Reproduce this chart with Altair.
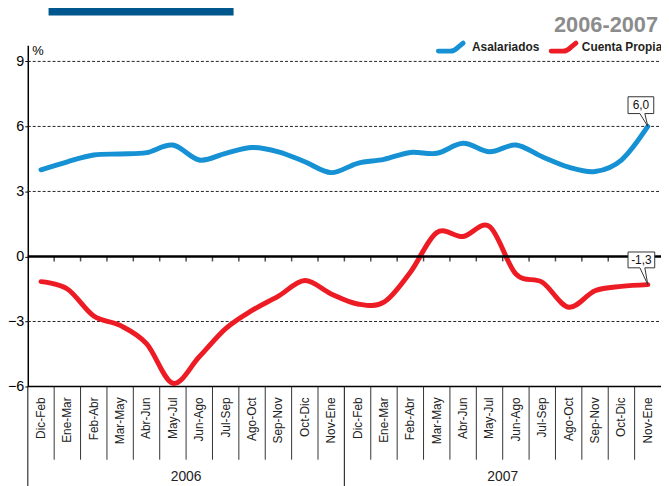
import altair as alt
import pandas as pd

# ---------------- data ----------------
periods = ["Dic-Feb", "Ene-Mar", "Feb-Abr", "Mar-May", "Abr-Jun", "May-Jul",
           "Jun-Ago", "Jul-Sep", "Ago-Oct", "Sep-Nov", "Oct-Dic", "Nov-Ene"]
years = ["2006", "2007"]
asalariados = [4.0, 4.37, 4.68, 4.73, 4.79, 5.14, 4.45, 4.76, 5.03, 4.83, 4.37, 3.87,
               4.30, 4.48, 4.80, 4.76, 5.22, 4.83, 5.14, 4.60, 4.12, 3.92, 4.45, 6.0]
cuenta_propia = [-1.16, -1.5, -2.75, -3.18, -4.02, -5.85, -4.63, -3.33, -2.49, -1.83, -1.11, -1.73,
                 -2.19, -2.11, -0.73, 1.1, 0.92, 1.38, -0.81, -1.19, -2.34, -1.58, -1.38, -1.3]
series_names = ["Asalariados", "Cuenta Propia"]
series_colors = ["#1591d4", "#ed1c24"]
last_labels = ["6,0", "-1,3"]
y_ticks = [-6, -3, 0, 3, 6, 9]
grid_values = [9, 6, 3, -3]
period_title = "2006-2007"

# ---------------- tables ----------------
n = len(periods) * len(years)
rows = []
for s, vals in zip(series_names, [asalariados, cuenta_propia]):
    for i, v in enumerate(vals):
        rows.append({"series": s, "pos": i + 0.5, "value": v})
df = pd.DataFrame(rows)

cats = pd.DataFrame({
    "pos": [i + 0.5 for i in range(n)],
    "period": [periods[i % len(periods)] for i in range(n)],
})
yrs = pd.DataFrame({"ypos": [len(periods) * (k + 0.5) for k in range(len(years))],
                    "year": years})
short_b = pd.DataFrame({"b": [b for b in range(1, n) if b % len(periods) != 0]})
long_b = pd.DataFrame({"b": [b for b in range(0, n) if b % len(periods) == 0]})
grid_df = pd.DataFrame({"g": grid_values})
last_df = pd.DataFrame({
    "series": series_names,
    "pos": [n - 0.5, n - 0.5],
    "value": [asalariados[-1], cuenta_propia[-1]],
    "label": last_labels,
})
dummy = pd.DataFrame({"a": [0]})

W, H = 640, 345
FONT = "Liberation Sans, Arial, sans-serif"

xs = alt.Scale(domain=[0, n], nice=False, zero=False)
ys = alt.Scale(domain=[-6, 9.75], nice=False, zero=False)

yaxis = alt.Axis(
    values=y_ticks, grid=False, domainColor="black", domainWidth=1.5,
    tickColor="black", tickSize=3, labelFontSize=14.5, labelPadding=1,
    labelFont=FONT, labelColor="black", title="%", titleAngle=0,
    titleAlign="left", titleBaseline="top", titleX=4, titleY=-1,
    titleFontSize=13, titleFontWeight="normal", titleFont=FONT, titleColor="black")

box1 = "M-20,-30 H6 V-13 H-3 L0,0 L-8,-13 H-20 Z"
box2 = "M-20,-33 H7 V-17 H-3 L0,0 L-8,-17 H-20 Z"
icon = "M-13,4 L-1,4 C3,4 5,2 7,0 L12,-4"

# ---------------- layers ----------------
grid = alt.Chart(grid_df).mark_rule(color="#222", strokeDash=[3, 2], strokeWidth=1).encode(
    y=alt.Y("g:Q", scale=ys, axis=yaxis), x=alt.value(0), x2=alt.value(W))

zero = alt.Chart(dummy).mark_rule(color="black", strokeWidth=2.5).encode(
    y=alt.datum(0, scale=ys), x=alt.value(0), x2=alt.value(W))

zero_ticks = alt.Chart(pd.DataFrame({"b": list(range(1, n))})).mark_tick(
    orient="vertical", color="black", size=5, thickness=1.5, yOffset=2.5).encode(
    x=alt.X("b:Q", scale=xs, axis=None), y=alt.datum(0, scale=ys))

bottom = alt.Chart(dummy).mark_rule(color="black", strokeWidth=1.5).encode(
    y=alt.datum(-6, scale=ys), x=alt.value(0), x2=alt.value(W))

div_short = alt.Chart(short_b).mark_rule(color="#333", strokeWidth=1).encode(
    x=alt.X("b:Q", scale=xs, axis=None), y=alt.value(H), y2=alt.value(H + 74))
div_long = alt.Chart(long_b).mark_rule(color="#333", strokeWidth=1.2).encode(
    x=alt.X("b:Q", scale=xs, axis=None), y=alt.value(H), y2=alt.value(H + 120))

cat_text = alt.Chart(cats).mark_text(
    angle=270, align="right", baseline="middle", fontSize=12, font=FONT, color="#222").encode(
    x=alt.X("pos:Q", scale=xs, axis=None), y=alt.value(H + 11), text="period:N")

year_text = alt.Chart(yrs).mark_text(
    align="center", baseline="middle", fontSize=14, font=FONT, color="#222").encode(
    x=alt.X("ypos:Q", scale=xs, axis=None), y=alt.value(H + 92), text="year:N")

lines = alt.Chart(df).mark_line(strokeWidth=5, interpolate="cardinal", strokeCap="round",
                                strokeJoin="round").encode(
    x=alt.X("pos:Q", scale=xs, axis=None),
    y=alt.Y("value:Q", scale=ys, axis=yaxis),
    color=alt.Color("series:N", scale=alt.Scale(domain=series_names, range=series_colors),
                    legend=None),
)

callout = alt.Chart(last_df).mark_point(size=4, filled=True, fill="white", stroke="#333",
                                         strokeWidth=1, opacity=1).encode(
    x=alt.X("pos:Q", scale=xs, axis=None), y=alt.Y("value:Q", scale=ys, axis=yaxis),
    shape=alt.Shape("series:N", scale=alt.Scale(domain=series_names, range=[box1, box2]),
                    legend=None))

lab1 = alt.Chart(last_df).transform_filter(alt.datum.series == series_names[0]).mark_text(
    dx=-7, dy=-21.5, fontSize=12, font=FONT, color="#111", baseline="middle").encode(
    x=alt.X("pos:Q", scale=xs, axis=None), y=alt.Y("value:Q", scale=ys, axis=yaxis), text="label:N")
lab2 = alt.Chart(last_df).transform_filter(alt.datum.series == series_names[1]).mark_text(
    dx=-6.5, dy=-25, fontSize=12, font=FONT, color="#111", baseline="middle").encode(
    x=alt.X("pos:Q", scale=xs, axis=None), y=alt.Y("value:Q", scale=ys, axis=yaxis), text="label:N")

# manual legend
legend_layers = []
icon_x = [428, 542]
text_x = [449, 560]
for k, s in enumerate(series_names):
    legend_layers.append(alt.Chart(dummy).mark_point(
        shape=icon, size=4, filled=False, stroke=series_colors[k], strokeWidth=5,
        strokeCap="round", strokeJoin="round", opacity=1).encode(
        x=alt.value(icon_x[k]), y=alt.value(2)))
    legend_layers.append(alt.Chart(dummy).mark_text(
        text=s, align="left", baseline="middle", fontSize=12, fontWeight="bold",
        font=FONT, color="#231f20").encode(x=alt.value(text_x[k]), y=alt.value(2)))

top_line = alt.Chart(dummy).mark_rule(color="#222", strokeWidth=1.5).encode(
    x=alt.value(21), x2=alt.value(W + 10), y=alt.value(-40))
top_bar = alt.Chart(dummy).mark_rect(color="#00578e").encode(
    x=alt.value(21), x2=alt.value(208), y=alt.value(-40), y2=alt.value(-30))
top_text = alt.Chart(dummy).mark_text(
    align="right", baseline="alphabetic", fontSize=22, fontWeight="bold",
    font=FONT, color="#8c8c8c", text=period_title).encode(
    x=alt.value(W - 3), y=alt.value(-13))

chart = alt.layer(
    grid, div_short, div_long, cat_text, year_text, bottom, lines, zero, zero_ticks,
    callout, lab1, lab2, *legend_layers, top_line, top_bar, top_text
).properties(
    width=W, height=H, autosize="none",
    padding={"left": 20, "top": 35, "right": 0, "bottom": 98},
).configure_view(stroke=None)

chart.save("out.html", embed_options={"renderer": "svg", "actions": False})
